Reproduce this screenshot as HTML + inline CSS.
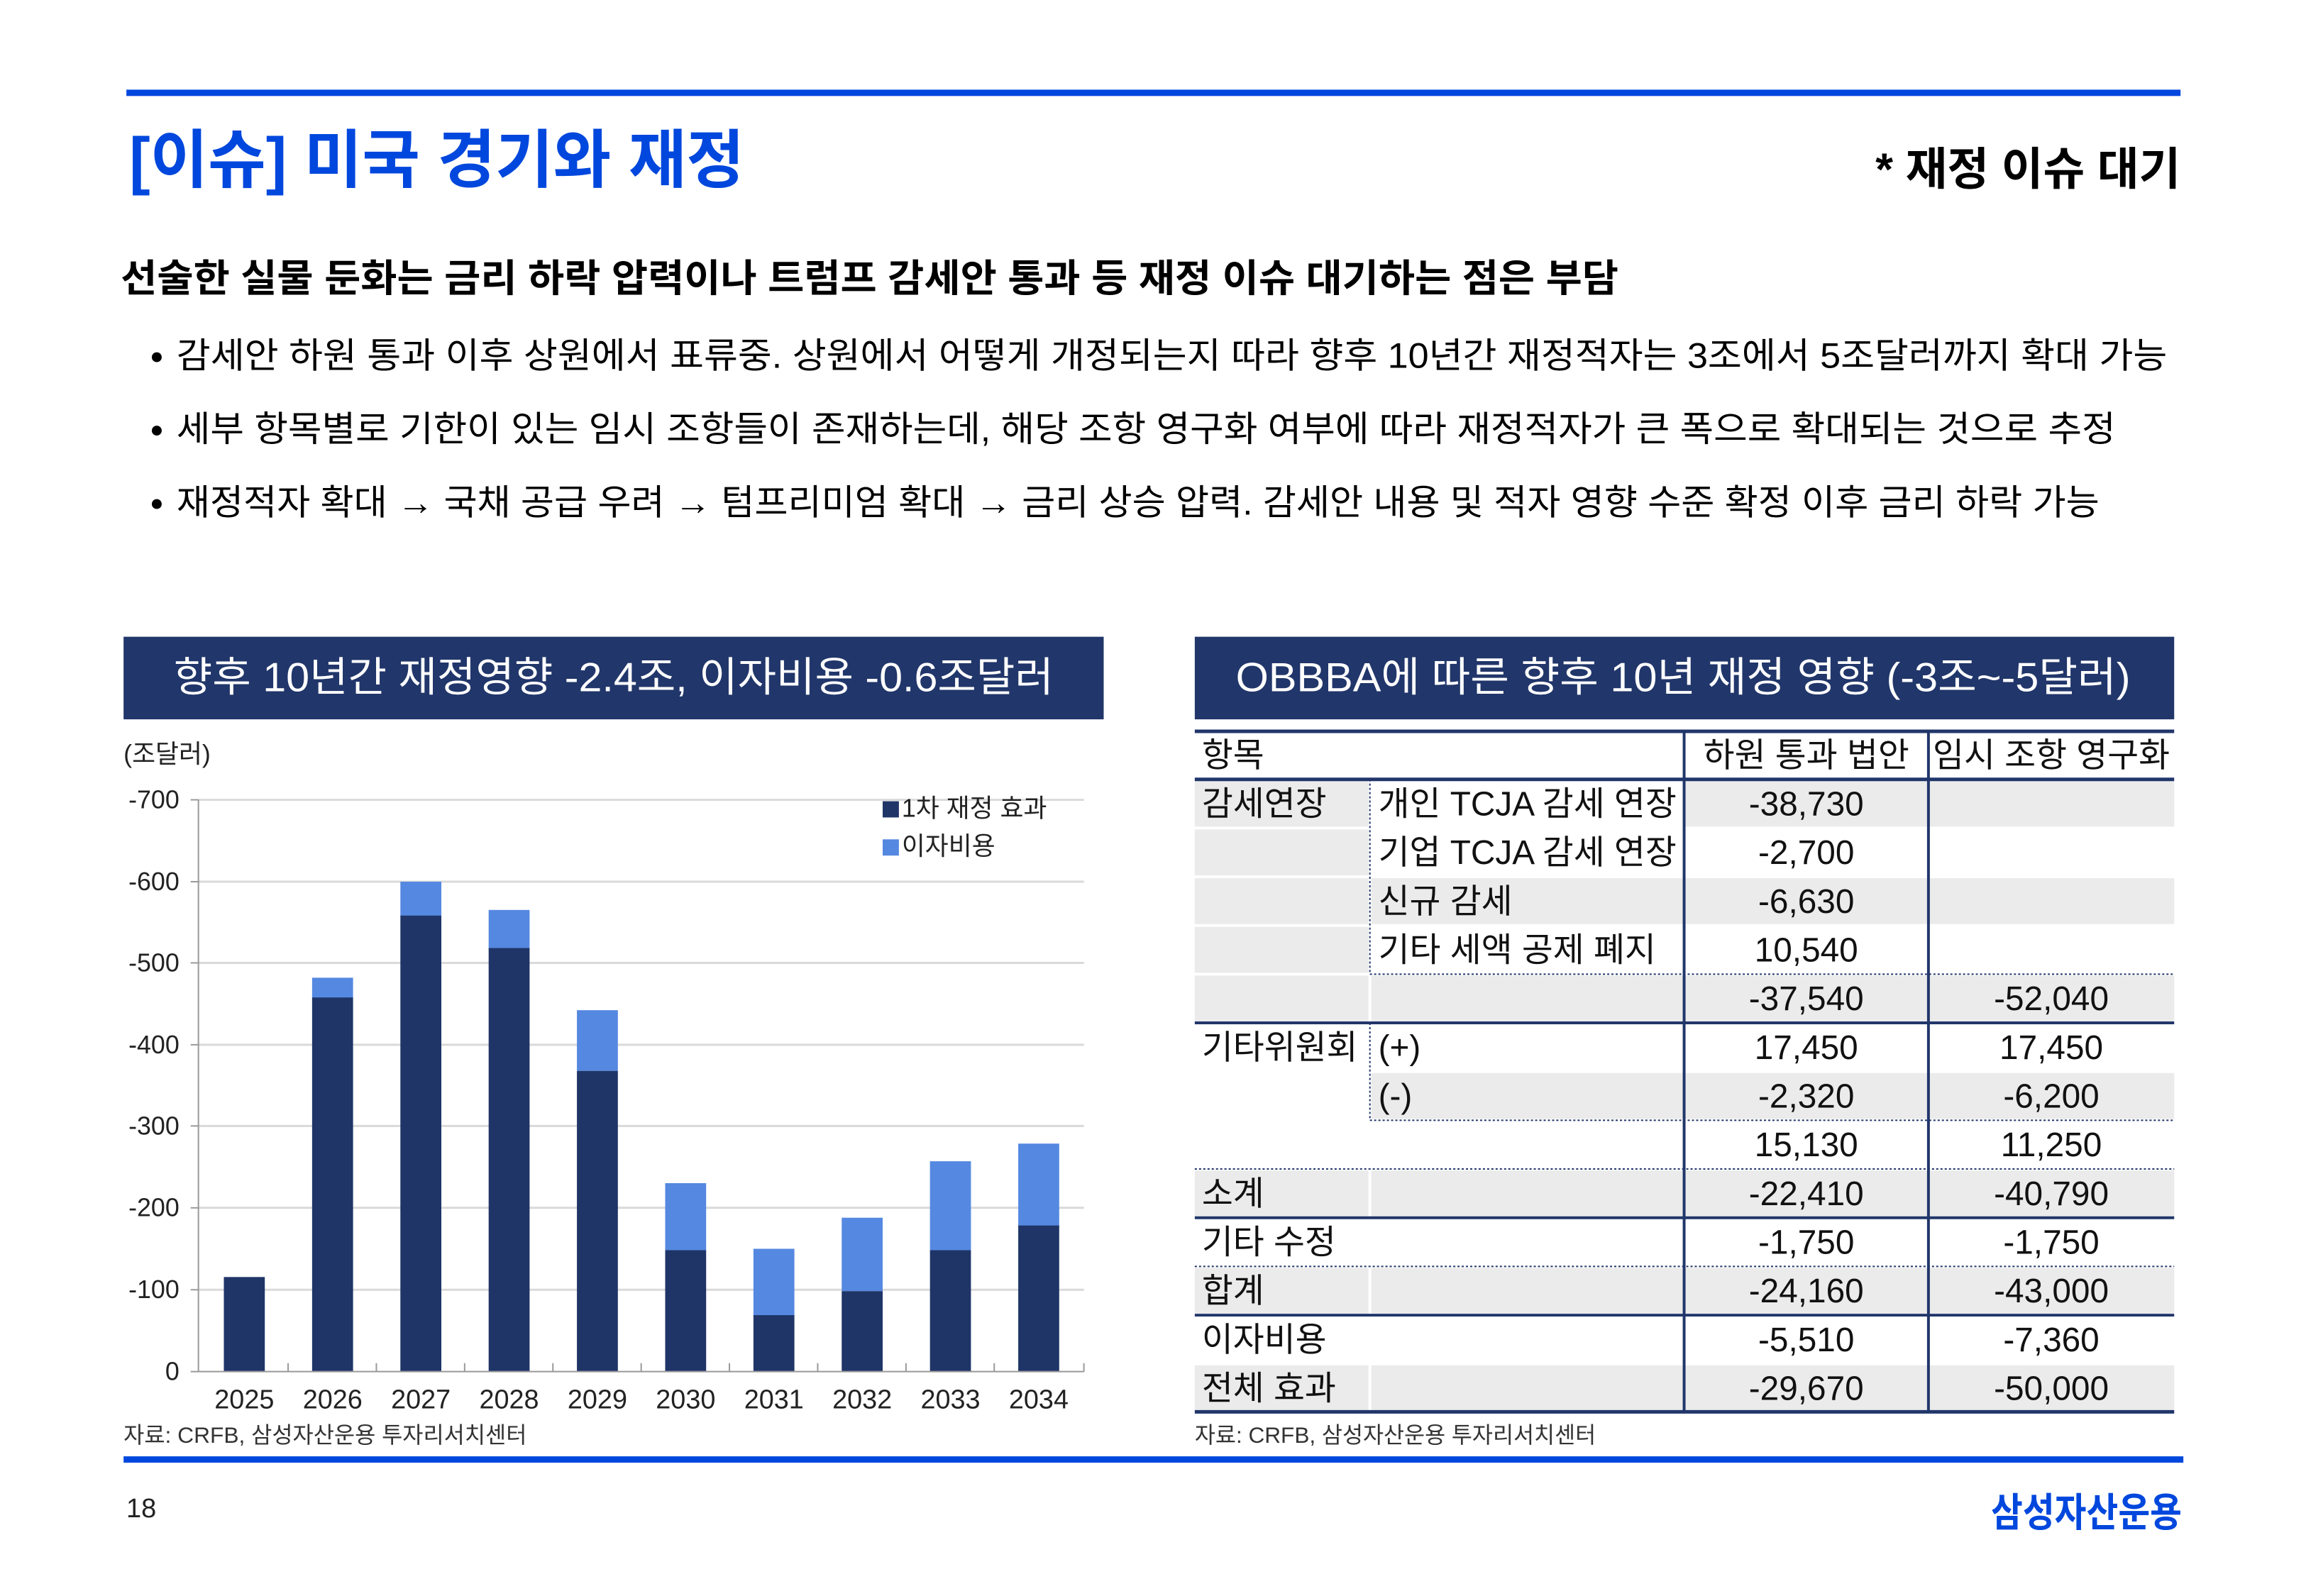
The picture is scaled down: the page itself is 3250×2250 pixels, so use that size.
<!DOCTYPE html>
<html><head><meta charset="utf-8"><style>
html,body{margin:0;padding:0;background:#fff;}
svg{display:block;}
text{font-family:"Liberation Sans","Noto Sans CJK KR",sans-serif;}
</style></head><body>
<svg width="3250" height="2250" viewBox="0 0 3250 2250" xmlns="http://www.w3.org/2000/svg">
<g transform="scale(0.9952)">
<rect x="179" y="127" width="2909" height="9" fill="#0047dd"/>
<text x="183" y="258" font-size="90" font-weight="bold" fill="#0047dd" textLength="871" lengthAdjust="spacingAndGlyphs">[이슈] 미국 경기와 재정</text>
<text x="2656" y="262" font-size="64" font-weight="bold" fill="#000" textLength="432" lengthAdjust="spacingAndGlyphs">* 재정 이슈 대기</text>
<text x="171" y="413" font-size="54" font-weight="bold" fill="#000" textLength="2121" lengthAdjust="spacingAndGlyphs">선술한 실물 둔화는 금리 하락 압력이나 트럼프 감세안 통과 등 재정 이슈 대기하는 점은 부담</text>
<g font-size="50" fill="#000">
<circle cx="222" cy="506" r="7"/><circle cx="222" cy="610" r="7"/><circle cx="222" cy="714" r="7"/>
<text x="250" y="521" textLength="2819" lengthAdjust="spacingAndGlyphs">감세안 하원 통과 이후 상원에서 표류중. 상원에서 어떻게 개정되는지 따라 향후 10년간 재정적자는 3조에서 5조달러까지 확대 가능</text>
<text x="250" y="625" textLength="2746" lengthAdjust="spacingAndGlyphs">세부 항목별로 기한이 있는 임시 조항들이 존재하는데, 해당 조항 영구화 여부에 따라 재정적자가 큰 폭으로 확대되는 것으로 추정</text>
<text x="250" y="729" textLength="2723" lengthAdjust="spacingAndGlyphs">재정적자 확대 → 국채 공급 우려 → 텀프리미엄 확대 → 금리 상승 압력. 감세안 내용 및 적자 영향 수준 확정 이후 금리 하락 가능</text>
</g>
<rect x="175" y="902" width="1388" height="117" fill="#21366a"/>
<text x="246" y="979" font-size="58" fill="#fff" textLength="1246" lengthAdjust="spacingAndGlyphs">향후 10년간 재정영향 -2.4조, 이자비용 -0.6조달러</text>
<rect x="1692" y="902" width="1387" height="117" fill="#21366a"/>
<text x="1750" y="979" font-size="58" fill="#fff" textLength="1267" lengthAdjust="spacingAndGlyphs">OBBBA에 따른 향후 10년 재정 영향 (-3조~-5달러)</text>
<text x="175" y="1080" font-size="36" fill="#222">(조달러)</text>
<g stroke="#d9d9d9" stroke-width="3">
<line x1="281" x2="1535" y1="1133" y2="1133"/><line x1="281" x2="1535" y1="1249" y2="1249"/>
<line x1="281" x2="1535" y1="1364" y2="1364"/><line x1="281" x2="1535" y1="1480" y2="1480"/>
<line x1="281" x2="1535" y1="1595" y2="1595"/><line x1="281" x2="1535" y1="1711" y2="1711"/>
<line x1="281" x2="1535" y1="1827" y2="1827"/>
</g>
<line x1="281" x2="281" y1="1133" y2="1943" stroke="#999" stroke-width="2"/>
<line x1="281" x2="1535" y1="1943" y2="1943" stroke="#999" stroke-width="2"/>
<g stroke="#999" stroke-width="2">
<line x1="270" x2="281" y1="1133" y2="1133"/><line x1="270" x2="281" y1="1249" y2="1249"/><line x1="270" x2="281" y1="1364" y2="1364"/><line x1="270" x2="281" y1="1480" y2="1480"/><line x1="270" x2="281" y1="1595" y2="1595"/><line x1="270" x2="281" y1="1711" y2="1711"/><line x1="270" x2="281" y1="1827" y2="1827"/><line x1="270" x2="281" y1="1943" y2="1943"/>
<line x1="408" x2="408" y1="1931" y2="1943"/><line x1="533" x2="533" y1="1931" y2="1943"/><line x1="658" x2="658" y1="1931" y2="1943"/><line x1="783" x2="783" y1="1931" y2="1943"/><line x1="908" x2="908" y1="1931" y2="1943"/><line x1="1033" x2="1033" y1="1931" y2="1943"/><line x1="1158" x2="1158" y1="1931" y2="1943"/><line x1="1283" x2="1283" y1="1931" y2="1943"/><line x1="1408" x2="1408" y1="1931" y2="1943"/><line x1="1535" x2="1535" y1="1931" y2="1943"/>
</g>
<g font-size="36" fill="#222" text-anchor="end">
<text x="254" y="1145">-700</text><text x="254" y="1261">-600</text><text x="254" y="1376">-500</text><text x="254" y="1492">-400</text><text x="254" y="1607">-300</text><text x="254" y="1723">-200</text><text x="254" y="1839">-100</text><text x="254" y="1955">0</text>
</g>
<g font-size="38" fill="#222" text-anchor="middle">
<text x="346" y="1995">2025</text><text x="471" y="1995">2026</text><text x="596" y="1995">2027</text><text x="721" y="1995">2028</text><text x="846" y="1995">2029</text><text x="971" y="1995">2030</text><text x="1096" y="1995">2031</text><text x="1221" y="1995">2032</text><text x="1346" y="1995">2033</text><text x="1471" y="1995">2034</text>
</g>
<g fill="#5588e0">
<rect x="442" y="1385" width="58" height="29"/>
<rect x="567" y="1249" width="58" height="49"/>
<rect x="692" y="1289" width="58" height="55"/>
<rect x="817" y="1431" width="58" height="86"/>
<rect x="942" y="1676" width="58" height="95"/>
<rect x="1067" y="1769" width="58" height="95"/>
<rect x="1192" y="1725" width="58" height="104"/>
<rect x="1317" y="1645" width="58" height="126"/>
<rect x="1442" y="1620" width="58" height="118"/>
</g>
<g fill="#1f3567">
<rect x="317" y="1809" width="58" height="133"/>
<rect x="442" y="1413" width="58" height="529"/>
<rect x="567" y="1297" width="58" height="645"/>
<rect x="692" y="1343" width="58" height="599"/>
<rect x="817" y="1517" width="58" height="425"/>
<rect x="942" y="1771" width="58" height="171"/>
<rect x="1067" y="1863" width="58" height="79"/>
<rect x="1192" y="1829" width="58" height="113"/>
<rect x="1317" y="1771" width="58" height="171"/>
<rect x="1442" y="1736" width="58" height="206"/>
</g>
<rect x="1250" y="1135" width="23" height="23" fill="#1f3567"/>
<text x="1277" y="1157" font-size="36" fill="#222">1차 재정 효과</text>
<rect x="1250" y="1189" width="23" height="23" fill="#5588e0"/>
<text x="1277" y="1211" font-size="36" fill="#222">이자비용</text>
<text x="175" y="2044" font-size="32" fill="#333" textLength="571" lengthAdjust="spacingAndGlyphs">자료: CRFB, 삼성자산운용 투자리서치센터</text>
<g fill="#ebebeb">
<rect x="1692" y="1106" width="246" height="65"/><rect x="1692" y="1175" width="246" height="65"/><rect x="1692" y="1244" width="246" height="65"/><rect x="1692" y="1313" width="246" height="65"/><rect x="1692" y="1382" width="246" height="65"/>
<rect x="1942" y="1244" width="441" height="65"/><rect x="1942" y="1382" width="441" height="65"/>
<rect x="2387" y="1106" width="342" height="65"/><rect x="2733" y="1106" width="346" height="65"/>
<rect x="2387" y="1244" width="342" height="65"/><rect x="2733" y="1244" width="346" height="65"/>
<rect x="2387" y="1382" width="342" height="65"/><rect x="2733" y="1382" width="346" height="65"/>
<rect x="1942" y="1520" width="441" height="65"/><rect x="2387" y="1520" width="342" height="65"/><rect x="2733" y="1520" width="346" height="65"/>
<rect x="1692" y="1658" width="246" height="65"/><rect x="1942" y="1658" width="441" height="65"/><rect x="2387" y="1658" width="342" height="65"/><rect x="2733" y="1658" width="346" height="65"/>
<rect x="1692" y="1796" width="246" height="65"/><rect x="1942" y="1796" width="441" height="65"/><rect x="2387" y="1796" width="342" height="65"/><rect x="2733" y="1796" width="346" height="65"/>
<rect x="1692" y="1934" width="246" height="65"/><rect x="1942" y="1934" width="441" height="65"/><rect x="2387" y="1934" width="342" height="65"/><rect x="2733" y="1934" width="346" height="65"/>
</g>
<g stroke="#21366a">
<line x1="1692" x2="3079" y1="1036" y2="1036" stroke-width="5"/>
<line x1="1692" x2="3079" y1="1104" y2="1104" stroke-width="5"/>
<line x1="1692" x2="3079" y1="1449" y2="1449" stroke-width="4"/>
<line x1="1692" x2="3079" y1="1725" y2="1725" stroke-width="4"/>
<line x1="1692" x2="3079" y1="1863" y2="1863" stroke-width="4"/>
<line x1="1692" x2="3079" y1="2000" y2="2000" stroke-width="5"/>
<line x1="2385" x2="2385" y1="1036" y2="2000" stroke-width="4"/>
<line x1="2731" x2="2731" y1="1036" y2="2000" stroke-width="4"/>
</g>
<g stroke="#21366a" stroke-width="2" stroke-dasharray="3,3">
<line x1="1940" x2="3079" y1="1380" y2="1380"/>
<line x1="1940" x2="3079" y1="1587" y2="1587"/>
<line x1="1692" x2="3079" y1="1656" y2="1656"/>
<line x1="1692" x2="3079" y1="1794" y2="1794"/>
<line x1="1940" x2="1940" y1="1104" y2="1380"/>
<line x1="1940" x2="1940" y1="1449" y2="1587"/>
</g>
<g font-size="48" fill="#111">
<text x="1702" y="1086">항목</text>
<text x="2558" y="1086" text-anchor="middle">하원 통과 법안</text>
<text x="2905" y="1086" text-anchor="middle">임시 조항 영구화</text>
<text x="1702" y="1155">감세연장</text><text x="1952" y="1155">개인 TCJA 감세 연장</text>
<text x="1952" y="1224">기업 TCJA 감세 연장</text>
<text x="1952" y="1293">신규 감세</text>
<text x="1952" y="1362">기타 세액 공제 폐지</text>
<text x="1702" y="1500">기타위원회</text><text x="1952" y="1500">(+)</text>
<text x="1952" y="1569">(-)</text>
<text x="1702" y="1707">소계</text>
<text x="1702" y="1776">기타 수정</text>
<text x="1702" y="1845">합계</text>
<text x="1702" y="1914">이자비용</text>
<text x="1702" y="1983">전체 효과</text>
</g>
<g font-size="48" fill="#111" text-anchor="middle">
<text x="2558" y="1155">-38,730</text>
<text x="2558" y="1224">-2,700</text>
<text x="2558" y="1293">-6,630</text>
<text x="2558" y="1362">10,540</text>
<text x="2558" y="1431">-37,540</text><text x="2905" y="1431">-52,040</text>
<text x="2558" y="1500">17,450</text><text x="2905" y="1500">17,450</text>
<text x="2558" y="1569">-2,320</text><text x="2905" y="1569">-6,200</text>
<text x="2558" y="1638">15,130</text><text x="2905" y="1638">11,250</text>
<text x="2558" y="1707">-22,410</text><text x="2905" y="1707">-40,790</text>
<text x="2558" y="1776">-1,750</text><text x="2905" y="1776">-1,750</text>
<text x="2558" y="1845">-24,160</text><text x="2905" y="1845">-43,000</text>
<text x="2558" y="1914">-5,510</text><text x="2905" y="1914">-7,360</text>
<text x="2558" y="1983">-29,670</text><text x="2905" y="1983">-50,000</text>
</g>
<text x="1692" y="2044" font-size="32" fill="#333" textLength="568" lengthAdjust="spacingAndGlyphs">자료: CRFB, 삼성자산운용 투자리서치센터</text>
<rect x="175" y="2063" width="2917" height="9" fill="#0047dd"/>
</g>
<text x="178" y="2139" font-size="38" fill="#222">18</text>
<text x="2806" y="2152" font-size="56" font-weight="bold" fill="#0047dd" textLength="269" lengthAdjust="spacingAndGlyphs">삼성자산운용</text>
</svg>
</body></html>
